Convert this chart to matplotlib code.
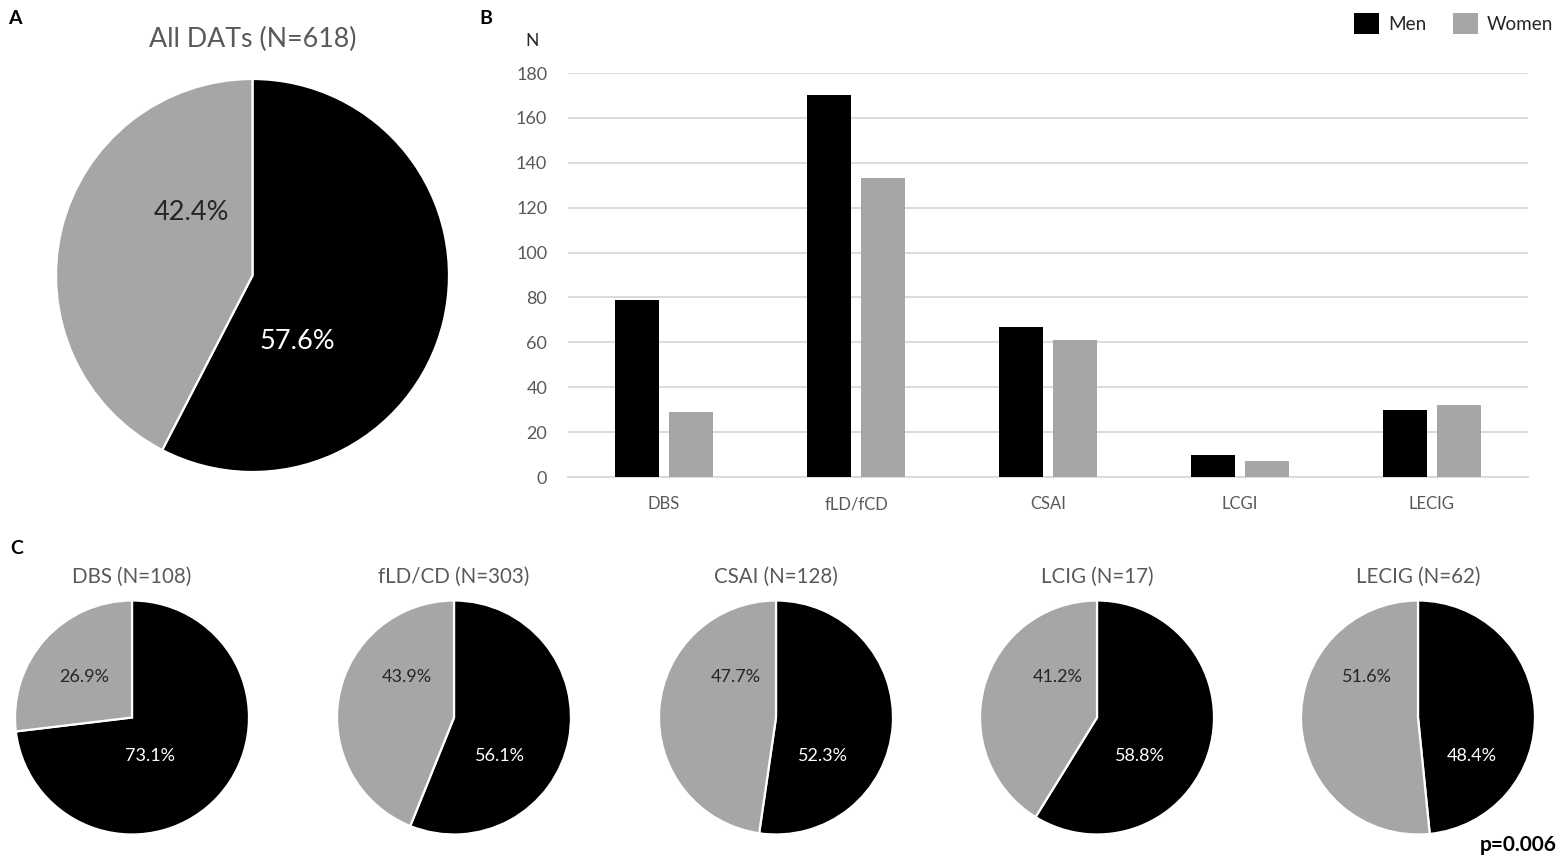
import matplotlib.pyplot as plt
from matplotlib.patches import Patch

plt.rcParams['font.family'] = ['Lato', 'DejaVu Sans']

# colours (Excel-like greys)
MEN_C = "#000000"
WOMEN_C = "#A6A6A6"
TXT_C = "#595959"
GRID_C = "#D9D9D9"

# data
groups = ["Men", "Women"]
all_title = "All DATs (N=618)"
all_pct = [57.6, 42.4]

therapies = ["DBS", "fLD/fCD", "CSAI", "LCGI", "LECIG"]
men_n = [79, 170, 67, 10, 30]
women_n = [29, 133, 61, 7, 32]
y_ticks = [0, 20, 40, 60, 80, 100, 120, 140, 160, 180]

pie_titles = ["DBS (N=108)", "fLD/CD (N=303)", "CSAI (N=128)", "LCIG (N=17)", "LECIG (N=62)"]
men_pct = [73.1, 56.1, 52.3, 58.8, 48.4]
women_pct = [26.9, 43.9, 47.7, 41.2, 51.6]

p_text = "p=0.006"

W, H = 1567, 865
fig = plt.figure(figsize=(W / 100, H / 100), dpi=100)


def px_axes(cx, cy, r):
    # square axes around a pie centre given in pixels
    return fig.add_axes([(cx - r) / W, (H - cy - r) / H, 2 * r / W, 2 * r / H])


def draw_pie(ax, vals, title, tsize, psize, women_xy, men_xy):
    wedges, _, autotexts = ax.pie(vals, colors=[MEN_C, WOMEN_C], startangle=90,
                                  counterclock=False, autopct="%.1f%%",
                                  wedgeprops=dict(edgecolor="white", linewidth=1.6),
                                  textprops=dict(fontsize=psize))
    ax.set_xlim(-1, 1)
    ax.set_ylim(-1, 1)
    ax.set_aspect("equal")
    autotexts[0].set_color("white")
    autotexts[0].set_position(men_xy)
    autotexts[1].set_color("#262626")
    autotexts[1].set_position(women_xy)
    ax.text(0, 1.2, title, ha="center", va="center", fontsize=tsize, color=TXT_C, clip_on=False)


# A: all DATs
axA = px_axes(252.5, 275.5, 196.5)
draw_pie(axA, all_pct, all_title, 19.3, 19.5, (-0.31, 0.32), (0.23, -0.335))

# B: bar chart
axB = fig.add_axes([568 / W, (H - 477) / H, 960 / W, 404 / H])
x = list(range(len(therapies)))
bw = 0.229
off = 0.143
axB.bar([i - off for i in x], men_n, width=bw, color=MEN_C, label=groups[0], zorder=3)
axB.bar([i + off for i in x], women_n, width=bw, color=WOMEN_C, label=groups[1], zorder=3)
axB.set_xlim(-0.5, len(therapies) - 0.5)
axB.set_ylim(0, 180)
axB.set_yticks(y_ticks)
axB.set_xticks(x)
axB.set_xticklabels(therapies)
axB.grid(axis="y", color=GRID_C, linewidth=1.3, zorder=0)
axB.set_axisbelow(True)
for s in axB.spines.values():
    s.set_visible(False)
axB.tick_params(length=0, colors=TXT_C)
axB.tick_params(axis="y", pad=15, labelsize=13)
axB.tick_params(axis="x", pad=14, labelsize=12)
axB.axhline(0, color=GRID_C, linewidth=1.3, zorder=1, clip_on=False)
fig.text(532 / W, 1 - 41 / H, "N", ha="center", va="center", fontsize=12.5, color="#262626")

fig.legend(handles=[Patch(facecolor=MEN_C, label=groups[0]),
                    Patch(facecolor=WOMEN_C, label=groups[1])],
           loc="upper right", bbox_to_anchor=(1553 / W, 1 - 13 / H), ncol=2, frameon=False,
           fontsize=13.6, handlelength=1.35, handleheight=1.35, handletextpad=0.45,
           columnspacing=1.4, borderpad=0, borderaxespad=0, labelcolor="#262626")

# C: pies per therapy
pie_cx = [132, 454, 776, 1097, 1418]
men_dx = [0.15, 0.39, 0.40, 0.37, 0.46]
women_dx = [-0.41, -0.40, -0.34, -0.34, -0.44]
for i, cx in enumerate(pie_cx):
    ax = px_axes(cx, 717.5, 117)
    draw_pie(ax, [men_pct[i], women_pct[i]], pie_titles[i], 14.8, 13,
             (women_dx[i], 0.35), (men_dx[i], -0.33))

# panel letters and p value
fig.text(15 / W, 1 - 18 / H, "A", ha="center", va="center", fontsize=14, fontweight="bold")
fig.text(486 / W, 1 - 18 / H, "B", ha="center", va="center", fontsize=14, fontweight="bold")
fig.text(17 / W, 1 - 548 / H, "C", ha="center", va="center", fontsize=14, fontweight="bold")
fig.text(1557 / W, 1 - 845 / H, p_text, ha="right", va="center", fontsize=15, fontweight="bold")

fig.savefig("out.png", dpi=100, facecolor="white")
